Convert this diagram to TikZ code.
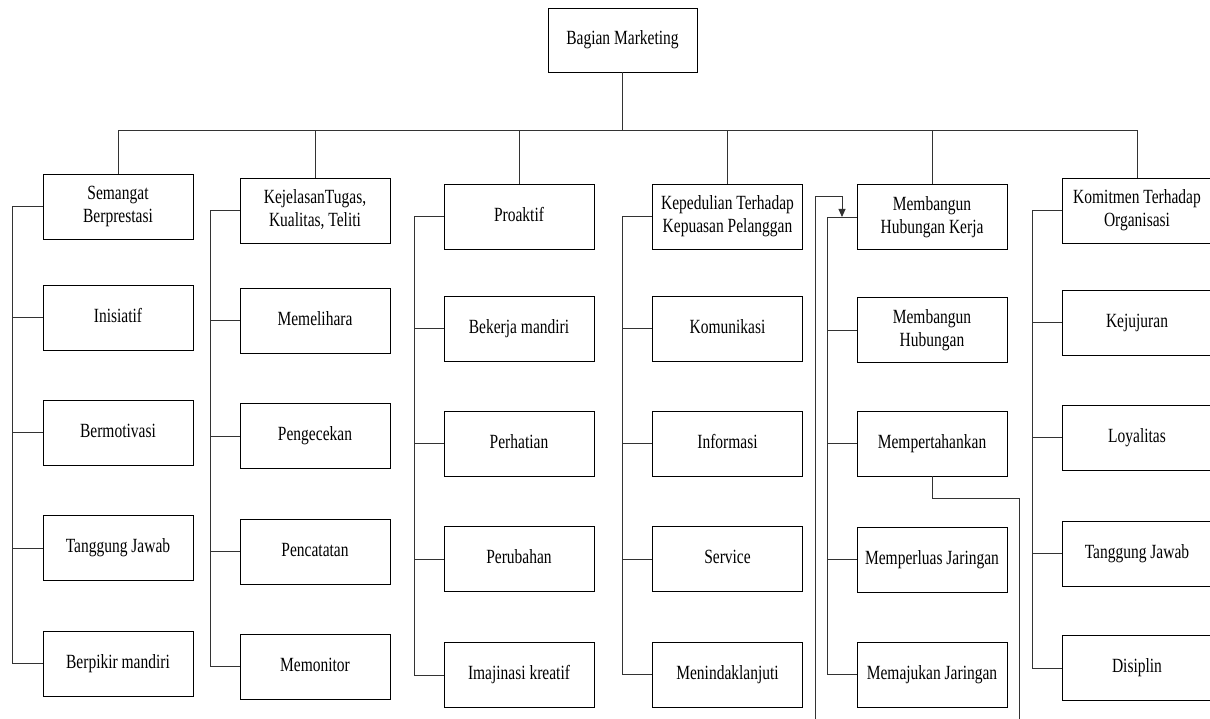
\documentclass[tikz,border=0pt]{standalone}
\usepackage{fontspec}
\usepackage{graphicx}
\setmainfont{Liberation Serif}
\newfontfamily\tnr{Liberation Serif}
\usetikzlibrary{arrows.meta}
\newcommand{\lbl}[1]{\scalebox{1}[1.3]{\tnr\fontsize{15.5}{17.7}\selectfont\begin{tabular}{@{}c@{}}#1\end{tabular}}}
\tikzset{
  box/.style={draw=black, line width=0.9pt, minimum width=150pt, minimum height=65pt, inner sep=0pt, align=center},
  link/.style={draw=black!80, line width=0.9pt},
}
\begin{document}
\begin{tikzpicture}[x=1pt,y=-1pt]
\useasboundingbox (0,0) rectangle (1210,719);
% top
\node[box, minimum width=149pt, minimum height=64pt] (top) at (622.5,40) {\lbl{Bagian Marketing}};
\coordinate (busL) at (118,130);
\coordinate (busR) at (1137,130);
\draw[link] (busL) -- (busR);
\draw[link] (top.south) -- (top.south |- busL);
% column 1
\node[box] (t1) at (118,206.5) {\lbl{Semangat\\Berprestasi}};
\node[box] (a11) at (118,317.5) {\lbl{Inisiatif}};
\node[box] (a12) at (118,432.5) {\lbl{Bermotivasi}};
\node[box] (a13) at (118,548) {\lbl{Tanggung Jawab}};
\node[box] (a14) at (118,663.5) {\lbl{Berpikir mandiri}};
% column 2
\node[box] (t2) at (315,210.5) {\lbl{KejelasanTugas,\\Kualitas, Teliti}};
\node[box] (a21) at (315,320.5) {\lbl{Memelihara}};
\node[box] (a22) at (315,436) {\lbl{Pengecekan}};
\node[box] (a23) at (315,551.5) {\lbl{Pencatatan}};
\node[box] (a24) at (315,666.5) {\lbl{Memonitor}};
% column 3
\node[box] (t3) at (519,216.5) {\lbl{Proaktif}};
\node[box] (a31) at (519,328.5) {\lbl{Bekerja mandiri}};
\node[box] (a32) at (519,443.5) {\lbl{Perhatian}};
\node[box] (a33) at (519,559) {\lbl{Perubahan}};
\node[box] (a34) at (519,675) {\lbl{Imajinasi kreatif}};
% column 4
\node[box] (t4) at (727.5,216.5) {\lbl{Kepedulian Terhadap\\Kepuasan Pelanggan}};
\node[box] (a41) at (727.5,328.5) {\lbl{Komunikasi}};
\node[box] (a42) at (727.5,443.5) {\lbl{Informasi}};
\node[box] (a43) at (727.5,559) {\lbl{Service}};
\node[box] (a44) at (727.5,674.5) {\lbl{Menindaklanjuti}};
% column 5
\node[box] (t5) at (932,217) {\lbl{Membangun\\Hubungan Kerja}};
\node[box] (a51) at (932,330) {\lbl{Membangun\\Hubungan}};
\node[box] (a52) at (932,443.5) {\lbl{Mempertahankan}};
\node[box] (a53) at (932,559.5) {\lbl{Memperluas Jaringan}};
\node[box] (a54) at (932,674.5) {\lbl{Memajukan Jaringan}};
% column 6
\node[box] (t6) at (1137,210.5) {\lbl{Komitmen Terhadap\\Organisasi}};
\node[box] (a61) at (1137,322.5) {\lbl{Kejujuran}};
\node[box] (a62) at (1137,437.5) {\lbl{Loyalitas}};
\node[box] (a63) at (1137,553.5) {\lbl{Tanggung Jawab}};
\node[box] (a64) at (1137,668) {\lbl{Disiplin}};
% spine positions
\coordinate (s1) at (12,0);
\coordinate (s2) at (210,0);
\coordinate (s3) at (414.5,0);
\coordinate (s4) at (622.5,0);
\coordinate (s5) at (827,0);
\coordinate (s6) at (1032.5,0);
% drops and spines
\foreach \c in {1,...,6}{
  \draw[link] (t\c.north) -- (t\c.north |- busL);
  \draw[link] (t\c.west) -- (t\c.west -| s\c) -- (a\c4.west -| s\c) -- (a\c4.west);
  \foreach \r in {1,2,3}{
    \draw[link] (a\c\r.west) -- (a\c\r.west -| s\c);
  }
}
% extra connectors in column 5
\coordinate (o1) at (815,719);
\coordinate (o1a) at (815,196);
\coordinate (o1b) at (842,196);
\draw[link, -{Triangle[length=8pt,width=7pt]}] (o1) -- (o1a) -- (o1b) -- (o1b |- t5.west);
\coordinate (o2) at (1019,719);
\draw[link] (a52.south) -- ++(0,22) -| (o2);
\end{tikzpicture}
\end{document}
